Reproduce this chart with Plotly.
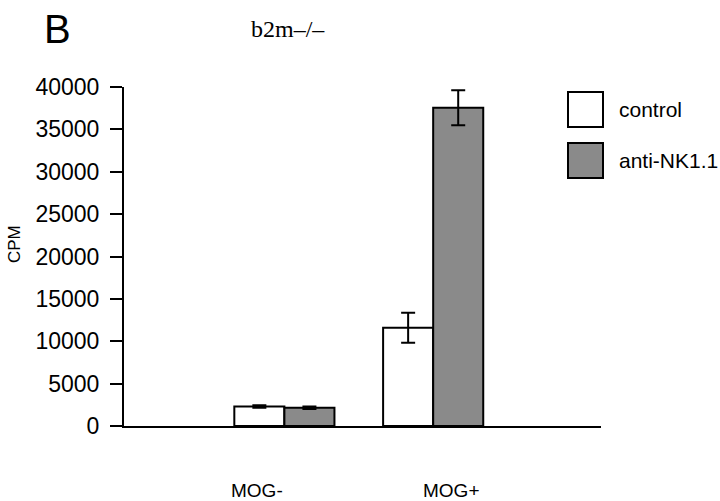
import plotly.graph_objects as go

categories = ["MOG-", "MOG+"]
series_names = ["control", "anti-NK1.1"]
control_vals = [2300, 11600]
control_err = [150, 1770]
anti_vals = [2150, 37550]
anti_err = [150, 2060]
y_ticks = [0, 5000, 10000, 15000, 20000, 25000, 30000, 35000, 40000]

W, H = 720, 501
L, R, T, B = 124, 119, 87, 75
PW, PH = W - L - R, H - T - B

def px(x):
    return (x - L) / PW

def py(y):
    return (H - B - y) / PH

fig = go.Figure()
fig.add_trace(go.Bar(
    x=categories, y=control_vals, name=series_names[0],
    marker=dict(color="white", line=dict(color="black", width=2)),
    error_y=dict(type="data", array=control_err, color="black", thickness=2, width=7),
    showlegend=False,
))
fig.add_trace(go.Bar(
    x=categories, y=anti_vals, name=series_names[1],
    marker=dict(color="#8a8a8a", line=dict(color="black", width=2)),
    error_y=dict(type="data", array=anti_err, color="black", thickness=2, width=7),
    showlegend=False,
))

fig.update_layout(
    width=W, height=H,
    margin=dict(l=L, r=R, t=T, b=B),
    paper_bgcolor="white", plot_bgcolor="white",
    barmode="group", bargap=0.327, bargroupgap=0,
    font=dict(family="Liberation Sans", color="black"),
)
fig.update_xaxes(
    type="category", range=[-1.078, 2.128],
    showline=True, linecolor="black", linewidth=2,
    showticklabels=False, ticks="", showgrid=False, zeroline=False,
)
fig.update_yaxes(
    range=[0, 40000], tickvals=y_ticks, ticktext=[str(v) for v in y_ticks],
    showline=True, linecolor="black", linewidth=2,
    ticks="outside", ticklen=12, tickwidth=2, tickcolor="black",
    ticklabelstandoff=6,
    tickfont=dict(size=23, family="Liberation Sans"),
    showgrid=False, zeroline=False,
)

# y-axis title
fig.add_annotation(x=px(14), y=py(244), xref="paper", yref="paper", text="CPM",
                   showarrow=False, textangle=-90, font=dict(size=17),
                   xanchor="center", yanchor="middle")

# category labels (offset under each group as in the reference)
cat_offsets = [-0.185, 0.117]
for c, off in zip(categories, cat_offsets):
    fig.add_annotation(x=categories.index(c) + off, y=py(490), xref="x", yref="paper",
                       text=c, showarrow=False, font=dict(size=19), yanchor="middle")

# legend boxes
fills = ["white", "#8a8a8a"]
box_tops = [92, 143]
for name, fill, top in zip(series_names, fills, box_tops):
    fig.add_shape(type="rect", xref="paper", yref="paper",
                  x0=px(568), x1=px(603), y0=py(top + 35), y1=py(top),
                  fillcolor=fill, line=dict(color="black", width=2))
    fig.add_annotation(x=px(617), y=py(top + 17), xref="paper", yref="paper",
                       text=name, showarrow=False, xanchor="left", yanchor="middle",
                       font=dict(size=21))

fig.add_annotation(x=px(288), y=py(29), xref="paper", yref="paper", text="b2m–/–",
                   showarrow=False, font=dict(size=24, family="Liberation Serif"),
                   xanchor="center", yanchor="middle")
fig.add_annotation(x=px(42), y=py(29), xref="paper", yref="paper", text="B",
                   showarrow=False, font=dict(size=40), xanchor="left", yanchor="middle")

fig.write_html("out.html", config={"displayModeBar": False},
               post_script="document.body.style.margin='0';")
